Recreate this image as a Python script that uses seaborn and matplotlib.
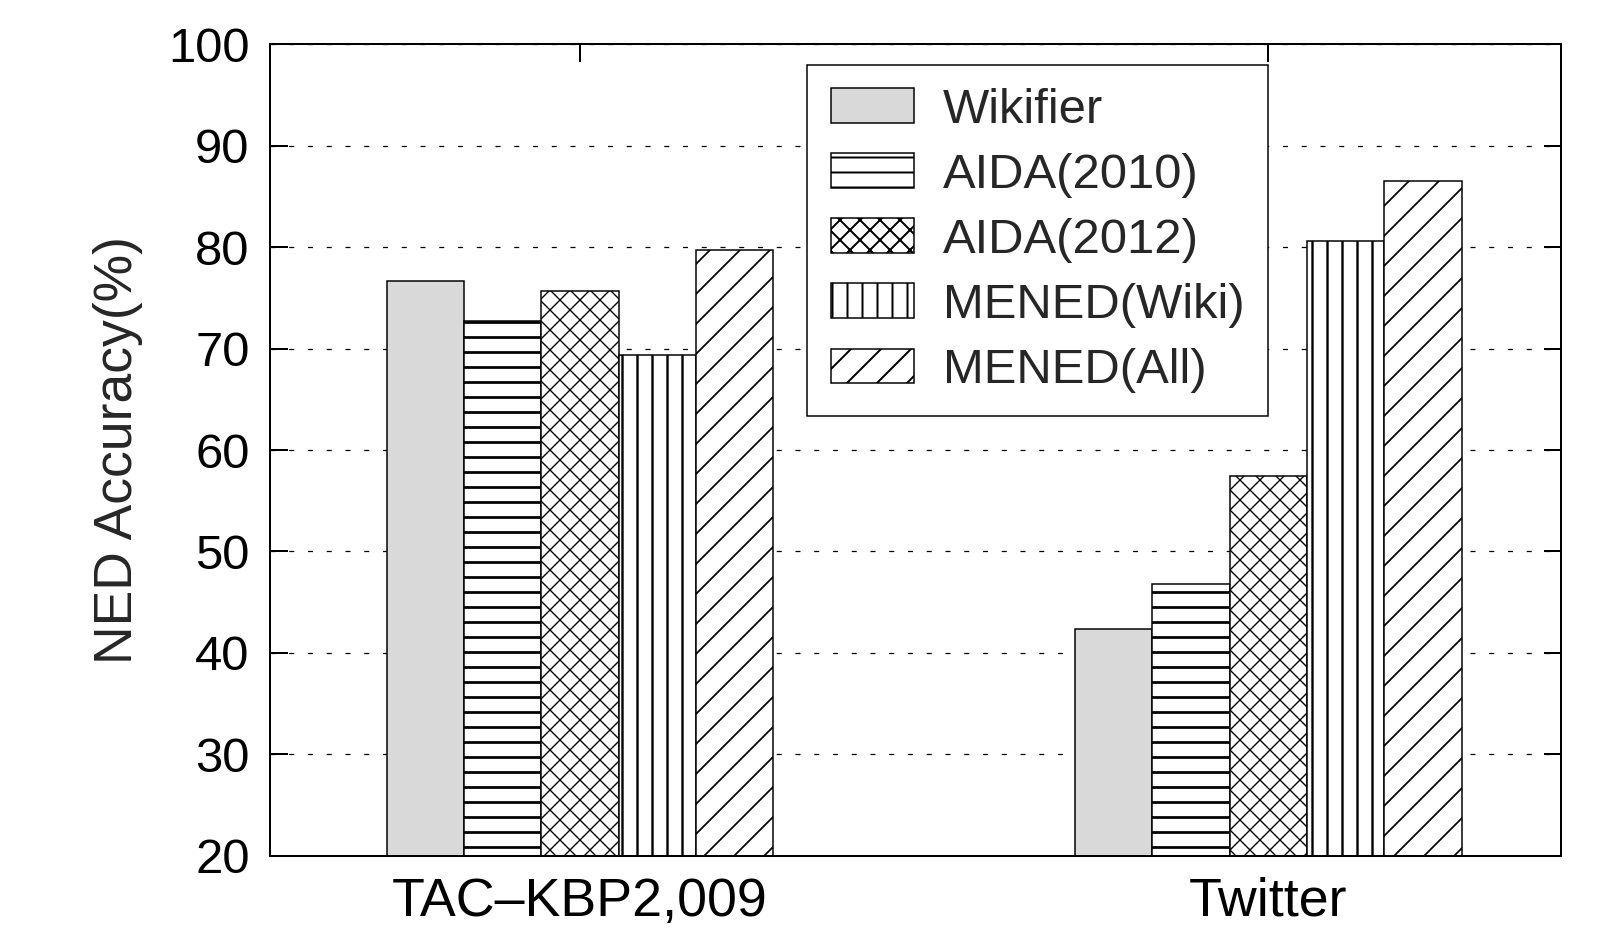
import matplotlib
matplotlib.use("Agg")
import matplotlib.pyplot as plt
import matplotlib.patches as mpatches
import seaborn as sns
import pandas as pd

# ---- data ----
datasets = ["TAC\u2013KBP2,009", "Twitter"]
methods = ["Wikifier", "AIDA(2010)", "AIDA(2012)", "MENED(Wiki)", "MENED(All)"]
tac_values = [76.7, 72.7, 75.7, 69.4, 79.7]
twitter_values = [42.4, 46.8, 57.4, 80.6, 86.5]
y_ticks = [20, 30, 40, 50, 60, 70, 80, 90, 100]

# ---- styles ----
fills = ["#d9d9d9", "white", "white", "white", "white"]
hatches = [None, "--", "xxx", "||", "//"]
hatch_lws = [0.8, 1.1, 0.55, 0.95, 0.7]

sns.set_style("ticks")
plt.rcParams["font.family"] = ["Liberation Sans", "DejaVu Sans"]
plt.rcParams["hatch.linewidth"] = 0.8

DPI = 180
fig = plt.figure(figsize=(1602 / DPI, 929 / DPI), dpi=DPI)
ax = fig.add_axes([0.1683, 0.0789, 0.9744 - 0.1683, 0.9523 - 0.0789])

rows = []
for m, a, b in zip(methods, tac_values, twitter_values):
    rows.append({"dataset": datasets[0], "method": m, "accuracy": a})
    rows.append({"dataset": datasets[1], "method": m, "accuracy": b})
df = pd.DataFrame(rows)

sns.barplot(data=df, x="dataset", y="accuracy", hue="method",
            order=datasets, hue_order=methods, palette=fills,
            width=0.562, gap=0, saturation=1, errorbar=None,
            edgecolor="black", linewidth=0.6, legend=False, ax=ax)


def style_patch(p, h, hlw):
    if h:
        p.set_hatch(h)
    p.set_edgecolor("black")
    if hasattr(p, "set_hatch_linewidth"):
        p.set_hatch_linewidth(hlw)


for cont, h, hlw in zip(ax.containers, hatches, hatch_lws):
    for p in cont.patches:
        style_patch(p, h, hlw)

ax.set_xlim(-0.4508, 1.425)
ax.set_ylim(20, 100)
ax.set_yticks(y_ticks)
ax.set_xlabel("")
ax.set_ylabel("NED Accuracy(%)", fontsize=21.4, labelpad=10)

ax.set_axisbelow(True)
ax.yaxis.grid(True, color="black", linewidth=0.5, linestyle=(0, (4, 11)))

for s in ax.spines.values():
    s.set_visible(True)
    s.set_linewidth(0.8)
    s.set_color("black")

ax.tick_params(axis="y", which="both", direction="in", length=7, width=0.8,
               left=True, right=True, labelsize=19.6, pad=8, colors="black")
ax.tick_params(axis="x", which="both", direction="in", length=7, width=0.8,
               top=True, bottom=False, labelsize=21.5, pad=8.5, colors="black")

handles = []
for f, h, hlw, m in zip(fills, hatches, hatch_lws, methods):
    hp = mpatches.Patch(facecolor=f, edgecolor="black", linewidth=0.6, label=m)
    style_patch(hp, h, hlw)
    handles.append(hp)

leg = ax.legend(handles=handles, loc="upper left", bbox_to_anchor=(0.4165, 0.975),
                fontsize=19.6, frameon=True, fancybox=False, framealpha=1,
                edgecolor="black", handlelength=1.7, handleheight=0.71,
                handletextpad=0.6, labelspacing=0.41, borderpad=0.47,
                borderaxespad=0)
leg.get_frame().set_linewidth(0.6)

fig.savefig("out.png", dpi=DPI)
